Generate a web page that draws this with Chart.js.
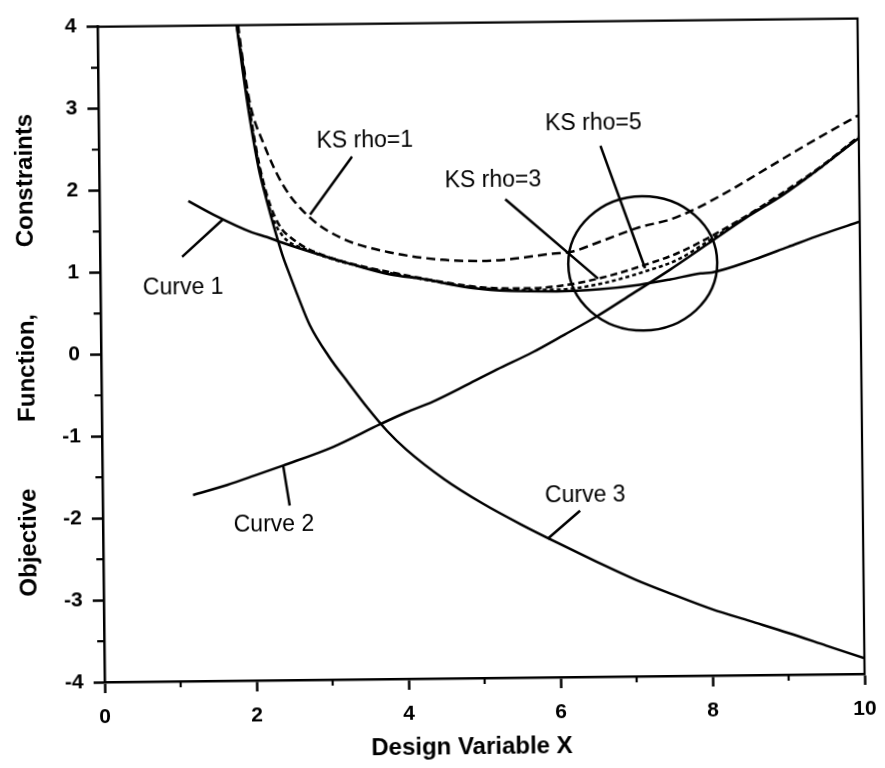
<!DOCTYPE html>
<html>
<head>
<meta charset="utf-8">
<script src="https://cdn.jsdelivr.net/npm/chart.js@4.4.0/dist/chart.umd.min.js"></script>
<style>
  html, body { margin: 0; padding: 0; background: #fff; overflow: hidden; }
  #wrap { width: 885px; height: 768px; transform: rotate(-0.62deg); transform-origin: 481px 345px; }
  canvas { display: block; background: #fff; }
</style>
</head>
<body>
<div id="wrap"><canvas id="chart" width="885" height="768"></canvas></div>
<script>
// Constraint curves
const curve1X = [1.17, 1.5, 2.0, 2.2, 2.4, 2.85, 3.3, 3.8, 4.3, 4.6, 4.9, 5.4, 6.0, 6.57, 7.1, 7.5, 7.9, 8.05, 8.6, 9.05, 9.5, 10.0];
const curve1Y = [1.86, 1.69, 1.47, 1.41, 1.34, 1.20, 1.07, 0.94, 0.87, 0.81, 0.76, 0.72, 0.71, 0.73, 0.78, 0.84, 0.91, 0.92, 1.07, 1.22, 1.37, 1.52];

const curve2X = [1.19, 1.64, 2.0, 2.38, 3.04, 3.66, 4.0, 4.36, 4.81, 5.2, 5.68, 6.1, 6.53, 7.0, 7.5, 8.0, 8.5, 9.0, 9.5, 10.0];
const curve2Y = [-1.73, -1.61, -1.50, -1.38, -1.16, -0.89, -0.75, -0.62, -0.42, -0.24, -0.03, 0.18, 0.40, 0.67, 0.96, 1.27, 1.58, 1.86, 2.19, 2.54];

const curve3X = [1.81, 1.83, 1.9, 2.0, 2.1, 2.2, 2.3, 2.4, 2.5, 2.6, 2.75, 3.0, 3.25, 3.5, 3.75, 4.0, 4.5, 5.0, 5.5, 6.0, 6.5, 7.0, 7.5, 8.0, 8.5, 9.0, 9.5, 10.0];
const curve3Y = [4.15, 4.0, 3.47, 2.80, 2.25, 1.86, 1.51, 1.19, 0.93, 0.68, 0.33, -0.06, -0.38, -0.69, -0.97, -1.20, -1.57, -1.87, -2.13, -2.37, -2.60, -2.82, -3.01, -3.19, -3.34, -3.49, -3.65, -3.81];

// KS envelope functions
const ks1X = [1.8, 1.83, 1.9, 2.0, 2.16, 2.42, 2.77, 3.2, 3.8, 4.5, 5.0, 5.3, 5.6, 5.95, 6.2, 6.58, 7.1, 7.5, 7.8, 8.3, 8.8, 9.3, 10.0];
const ks1Y = [4.35, 4.15, 3.62, 3.02, 2.57, 2.04, 1.64, 1.38, 1.21, 1.11, 1.09, 1.10, 1.13, 1.17, 1.19, 1.31, 1.48, 1.57, 1.68, 1.92, 2.19, 2.46, 2.82];

const ksX = [1.8, 1.9, 2.0, 2.1, 2.2, 2.3, 2.4, 2.5, 2.7, 3.0, 3.5, 4.0, 4.5, 5.0, 5.5, 6.0, 6.6, 7.2, 7.6, 8.0, 8.5, 9.0, 9.5, 10.0];
const ks3Y = [4.25, 3.57, 2.90, 2.34, 1.94, 1.67, 1.50, 1.41, 1.28, 1.16, 1.03, 0.93, 0.84, 0.77, 0.75, 0.77, 0.87, 1.03, 1.16, 1.34, 1.60, 1.89, 2.20, 2.56];
const ks5Y = [4.22, 3.53, 2.86, 2.30, 1.89, 1.59, 1.43, 1.34, 1.26, 1.15, 1.02, 0.92, 0.83, 0.76, 0.73, 0.73, 0.80, 0.95, 1.08, 1.30, 1.59, 1.87, 2.19, 2.55];

// Axis ticks
const xTickStep = 2;
const yTickStep = 1;
const xMinorTicks = [1, 3, 5, 7, 9];
const yMinorTicks = [-3.5, -2.5, -1.5, -0.5, 0.5, 1.5, 2.5, 3.5];

// Callout labels: text, label centre, leader line start and end (data units)
const labelText  = ['Curve 1', 'Curve 2', 'Curve 3', 'KS rho=1', 'KS rho=3', 'KS rho=5'];
const labelX     = [1.09, 2.25, 6.35, 3.50, 5.18, 6.51];
const labelY     = [0.80, -2.10, -1.79, 2.57, 2.07, 2.75];
const leaderX0   = [1.08, 2.46, 6.28, 3.33, 5.34, 6.60];
const leaderY0   = [1.18, -1.87, -1.97, 2.38, 1.84, 2.48];
const leaderX1   = [1.62, 2.38, 5.85, 2.77, 6.55, 7.17];
const leaderY1   = [1.63, -1.38, -2.31, 1.68, 0.86, 0.98];

// Highlighted region around the constrained optimum
const ringCenter = [7.14, 1.04];
const ringRadius = [0.98, 0.82];

const pts = (xs, ys) => xs.map((x, i) => ({ x: x, y: ys[i] }));

const framePlugin = {
  id: 'frameAndMinorTicks',
  afterDatasetsDraw(chart) {
    const { ctx, chartArea: a, scales: { x, y } } = chart;
    ctx.save();
    ctx.strokeStyle = '#000';
    ctx.lineWidth = 2.2;
    ctx.beginPath();
    ctx.moveTo(a.left, a.top);
    ctx.lineTo(a.right, a.top);
    ctx.lineTo(a.right, a.bottom);
    ctx.stroke();
    ctx.beginPath();
    xMinorTicks.forEach(v => {
      const px = x.getPixelForValue(v);
      ctx.moveTo(px, a.bottom);
      ctx.lineTo(px, a.bottom + 6);
    });
    yMinorTicks.forEach(v => {
      const py = y.getPixelForValue(v);
      ctx.moveTo(a.left - 7, py);
      ctx.lineTo(a.left, py);
    });
    ctx.stroke();
    ctx.restore();
  }
};

const calloutPlugin = {
  id: 'callouts',
  afterDatasetsDraw(chart) {
    const { ctx, scales: { x, y } } = chart;
    ctx.save();
    ctx.strokeStyle = '#000';
    ctx.fillStyle = '#000';
    ctx.lineWidth = 2.5;
    ctx.lineCap = 'butt';
    ctx.beginPath();
    for (let i = 0; i < labelText.length; i++) {
      ctx.moveTo(x.getPixelForValue(leaderX0[i]), y.getPixelForValue(leaderY0[i]));
      ctx.lineTo(x.getPixelForValue(leaderX1[i]), y.getPixelForValue(leaderY1[i]));
    }
    ctx.stroke();

    const cx = x.getPixelForValue(ringCenter[0]);
    const cy = y.getPixelForValue(ringCenter[1]);
    const rx = Math.abs(x.getPixelForValue(ringCenter[0] + ringRadius[0]) - cx);
    const ry = Math.abs(y.getPixelForValue(ringCenter[1] + ringRadius[1]) - cy);
    ctx.beginPath();
    ctx.ellipse(cx, cy, rx, ry, 0, 0, Math.PI * 2);
    ctx.stroke();

    ctx.font = '23px "Liberation Sans", Arial, sans-serif';
    ctx.textAlign = 'center';
    ctx.textBaseline = 'middle';
    for (let i = 0; i < labelText.length; i++) {
      ctx.fillText(labelText[i], x.getPixelForValue(labelX[i]), y.getPixelForValue(labelY[i]));
    }
    ctx.restore();
  }
};

Chart.defaults.font.family = '"Liberation Sans", Arial, sans-serif';
Chart.defaults.color = '#000';

new Chart(document.getElementById('chart'), {
  type: 'line',
  data: {
    datasets: [
      { label: 'Curve 1', data: pts(curve1X, curve1Y) },
      { label: 'Curve 2', data: pts(curve2X, curve2Y) },
      { label: 'Curve 3', data: pts(curve3X, curve3Y) },
      { label: 'KS rho=1', data: pts(ks1X, ks1Y), borderDash: [9, 5] },
      { label: 'KS rho=3', data: pts(ksX, ks3Y), borderDash: [7, 4] },
      { label: 'KS rho=5', data: pts(ksX, ks5Y), borderDash: [4, 3] }
    ]
  },
  options: {
    responsive: false,
    animation: false,
    layout: { padding: { top: 12, right: 24, left: 0, bottom: 0 } },
    plugins: { legend: { display: false }, tooltip: { enabled: false } },
    elements: {
      point: { radius: 0 },
      line: { borderWidth: 2.5, borderColor: '#000', fill: false, cubicInterpolationMode: 'monotone' }
    },
    scales: {
      x: {
        type: 'linear', min: 0, max: 10,
        ticks: { stepSize: xTickStep, color: '#000', font: { size: 21, weight: 'bold' }, padding: 12, maxRotation: 0 },
        grid: { drawOnChartArea: false, tickLength: 11, tickWidth: 2.5, tickColor: '#000' },
        border: { color: '#000', width: 2.5 },
        title: { display: true, text: 'Design Variable X    ', color: '#000', font: { size: 24, weight: 'bold' }, padding: { top: 0, bottom: 6 } },
        afterFit(s) { s.height = 90; }
      },
      y: {
        type: 'linear', min: -4, max: 4,
        ticks: { stepSize: yTickStep, color: '#000', font: { size: 21, weight: 'bold' }, padding: 10 },
        grid: { drawOnChartArea: false, tickLength: 11, tickWidth: 2.5, tickColor: '#000' },
        border: { color: '#000', width: 2.5 },
        title: { display: true, text: 'Objective          Function,          Constraints', color: '#000', font: { size: 24, weight: 'bold' }, padding: { top: 13, bottom: 0 } },
        afterFit(s) { s.width = 101; }
      }
    }
  },
  plugins: [framePlugin, calloutPlugin]
});
</script>
</body>
</html>
